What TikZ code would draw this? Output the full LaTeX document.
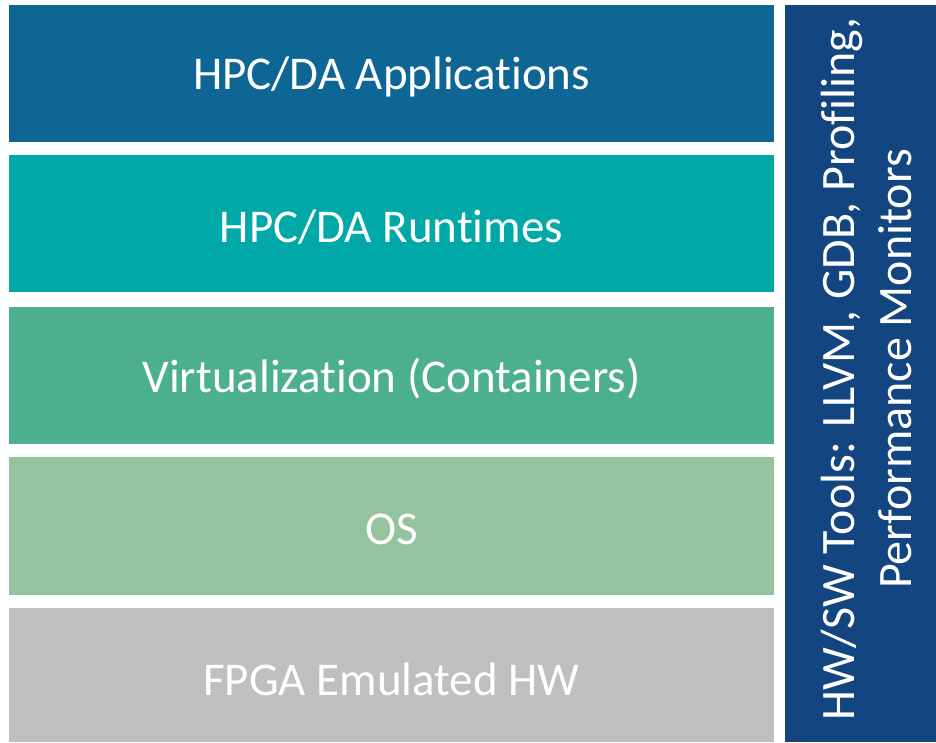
\documentclass[tikz,border=0pt]{standalone}
\usepackage{fontspec}
\setmainfont[Ligatures={NoCommon,NoRequired,NoContextual}]{Carlito}
\definecolor{cApp}{HTML}{0E6695}
\definecolor{cRun}{HTML}{00A8A8}
\definecolor{cVirt}{HTML}{4DB08C}
\definecolor{cOS}{HTML}{95C3A0}
\definecolor{cHW}{HTML}{BFBFBF}
\definecolor{cTools}{HTML}{134580}
\begin{document}
\begin{tikzpicture}[x=1pt,y=-1pt,
  lbl/.style={text=white, font=\fontsize{47}{57}\selectfont, align=center}]
\useasboundingbox (0,0) rectangle (936,742);
\fill[cApp] (9,5) rectangle (774,142);
\fill[cRun] (9,155) rectangle (774,292);
\fill[cVirt] (9,307) rectangle (774,444);
\fill[cOS] (9,457) rectangle (774,595);
\fill[cHW] (9,608) rectangle (774,742);
\fill[cTools] (785,5) rectangle (936,742);
\node[lbl] (app) at (391.5,77) {HPC/DA Applications};
\node[lbl] (run) at (391.5,227) {HPC/DA Runtimes};
\node[lbl] (virt) at (391.5,379) {Virtualization (Containers)};
\node[lbl] (os) at (391.5,529) {OS};
\node[lbl] (hw) at (391.5,679) {FPGA Emulated HW};
\node[lbl, rotate=90, font=\fontsize{48}{57}\selectfont] (tools) at (866,369) {HW/SW Tools: LLVM, GDB, Profiling,\\Performance Monitors};
\end{tikzpicture}
\end{document}
